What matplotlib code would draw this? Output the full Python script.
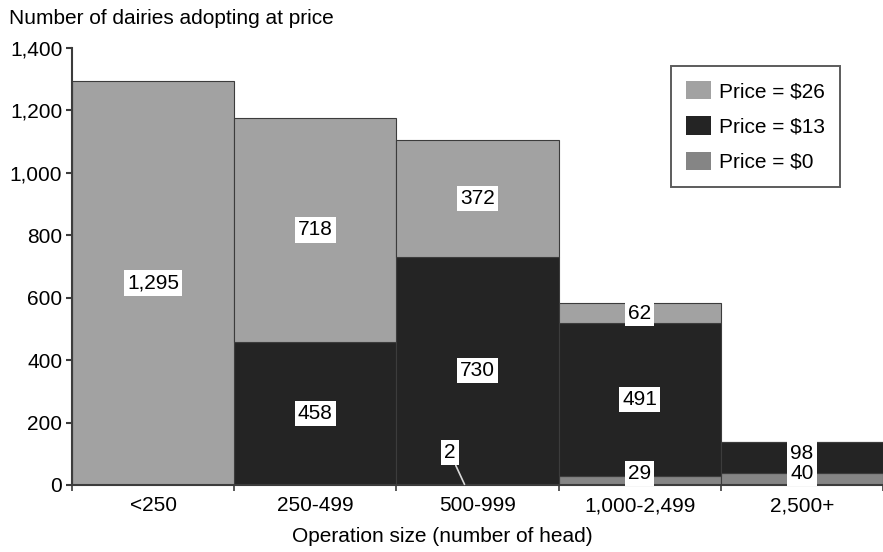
import matplotlib
matplotlib.use("Agg")
import matplotlib.pyplot as plt
import numpy as np
from matplotlib.patches import Patch

plt.rcParams['font.family'] = ['Liberation Sans', 'DejaVu Sans']

categories = ["<250", "250-499", "500-999", "1,000-2,499", "2,500+"]
price0 = [0, 0, 2, 29, 40]
price13 = [0, 458, 730, 491, 98]
price26 = [1295, 718, 372, 62, 0]

c0, c13, c26 = "#858585", "#242424", "#a2a2a2"
edge = "#3c3c3c"
FS = 15

fig = plt.figure(figsize=(8.83, 5.52), dpi=100)
ax = fig.add_axes([72/883, 1-485/552, 1-72/883, (485-48)/552])

x = np.arange(len(categories))
p0 = np.array(price0); p13 = np.array(price13); p26 = np.array(price26)
ax.bar(x, p0, width=1.0, color=c0, edgecolor=edge, linewidth=0.8)
ax.bar(x, p13, width=1.0, bottom=p0, color=c13, edgecolor=edge, linewidth=0.8)
ax.bar(x, p26, width=1.0, bottom=p0 + p13, color=c26, edgecolor=edge, linewidth=0.8)

box = dict(boxstyle="square,pad=0.15", fc="white", ec="none")

def lab(xi, y, v):
    ax.text(xi, y, f"{v:,}", ha="center", va="center", fontsize=FS, bbox=box, zorder=5)

for i in range(len(categories)):
    if p26[i] > 0:
        lab(x[i], p0[i] + p13[i] + p26[i] / 2, p26[i])
    if p13[i] > 0:
        yc = p0[i] + p13[i] / 2
        if p13[i] < 150:
            yc = p0[i] + 60
        lab(x[i], yc, p13[i])
    if p0[i] > 0:
        if p0[i] < 10:
            ax.annotate(f"{p0[i]:,}", xy=(x[i] - 0.08, p0[i]), xytext=(x[i] - 0.17, 103),
                        ha="center", va="center", fontsize=FS, bbox=box, zorder=5,
                        arrowprops=dict(arrowstyle="-", color="#d8d8d8", lw=1.2,
                                        shrinkA=0, shrinkB=0))
        else:
            lab(x[i], 37, p0[i])

ax.set_xlim(-0.5, 4.45)
ax.set_ylim(0, 1400)
ax.set_yticks(np.arange(0, 1401, 200))
ax.set_yticklabels([f"{v:,}" for v in range(0, 1401, 200)], fontsize=FS)
ax.set_xticks(x)
ax.set_xticklabels(categories, fontsize=FS)
ax.set_xticks(np.arange(-0.5, 4.6, 1), minor=True)
ax.tick_params(axis="x", which="major", length=0, pad=8)
ax.tick_params(axis="x", which="minor", length=4, width=1.2, color=edge, direction="out")
ax.tick_params(axis="y", length=4, width=1.5, color=edge, pad=3)

for s in ["top", "right"]:
    ax.spines[s].set_visible(False)
for s in ["left", "bottom"]:
    ax.spines[s].set_color(edge)
    ax.spines[s].set_linewidth(1.5)

fig.text(9/883, 1-18/552, "Number of dairies adopting at price", fontsize=FS, ha="left", va="center")
fig.text(442/883, 1-537/552, "Operation size (number of head)", fontsize=FS, ha="center", va="center")

handles = [Patch(facecolor=c26, edgecolor="none"),
           Patch(facecolor=c13, edgecolor="none"),
           Patch(facecolor=c0, edgecolor="none")]
leg = ax.legend(handles, ["Price = $26", "Price = $13", "Price = $0"],
                loc="upper left", bbox_to_anchor=((671-72)/(883-72), (485-66)/437),
                fontsize=FS, frameon=True, fancybox=False, edgecolor="#333333",
                handlelength=1.2, handleheight=1.0, borderpad=0.7, labelspacing=0.72,
                handletextpad=0.4, borderaxespad=0)
leg.get_frame().set_linewidth(1.4)

fig.savefig("out.png", dpi=100)
